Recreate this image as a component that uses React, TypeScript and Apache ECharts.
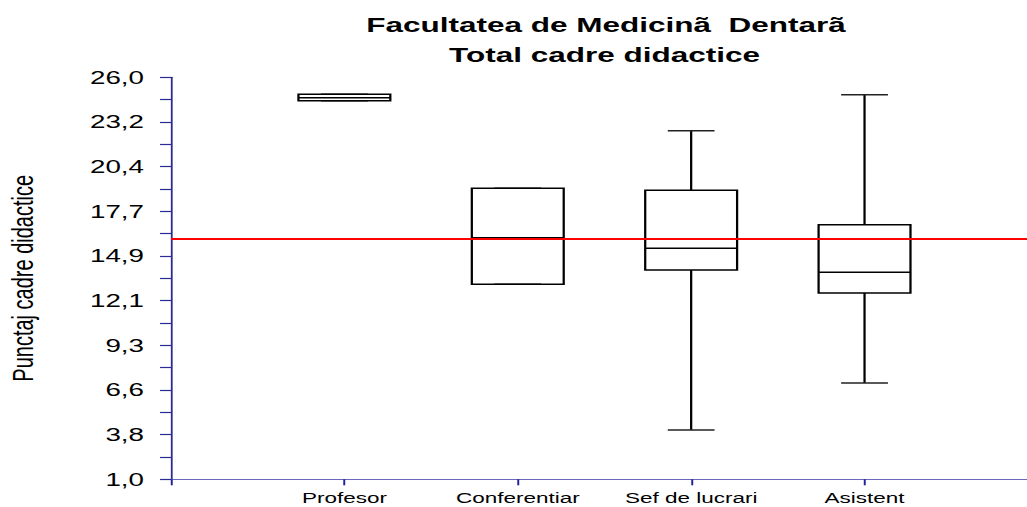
import React, { useEffect, useRef } from "react";
import * as echarts from "echarts";

// ---- data ----
const categories = ["Profesor", "Conferentiar", "Sef de lucrari", "Asistent"];
const minValues = [24.54, 13.13, 4.07, 6.99];
const q1Values = [24.54, 13.13, 14.02, 12.59];
const medianValues = [24.73, 16.02, 15.37, 13.87];
const q3Values = [24.94, 19.1, 18.97, 16.83];
const maxValues = [24.94, 19.1, 22.68, 24.92];
const referenceValue = 15.94;
const yTickLabels = ["1,0", "3,8", "6,6", "9,3", "12,1", "14,9", "17,7", "20,4", "23,2", "26,0"];
const yLabelValues = [1, 3.7778, 6.5556, 9.3333, 12.1111, 14.8889, 17.6667, 20.4444, 23.2222, 26];
const yMinorTickValues = [2.3889, 5.1667, 7.9444, 10.7222, 13.5, 16.2778, 19.0556, 21.8333, 24.6111];
const xTickPositions = [0, 1, 2, 3, 4];
const titleLines = ["Facultatea de Medicinã  Dentarã", "Total cadre didactice"];
const yAxisName = "Punctaj cadre didactice";

// ---- layout (the reference is horizontally stretched) ----
const STRETCH = 1.5;
const W = 1027 / STRETCH;
const H = 507;
const FONT = "'Liberation Sans', Arial, Helvetica, sans-serif";

export default function App() {
  const ref = useRef<HTMLDivElement>(null);

  useEffect(() => {
    if (!ref.current) return;
    const chart = echarts.init(ref.current, null, { renderer: "svg", width: W, height: H });

    const boxData = categories.map((_, i) => [
      i + 1,
      minValues[i],
      q1Values[i],
      medianValues[i],
      q3Values[i],
      maxValues[i],
    ]);

    const lw = 1.5;
    const renderItem = (params: any, api: any) => {
      const x = api.value(0);
      const lo = api.value(1);
      const q1 = api.value(2);
      const med = api.value(3);
      const q3 = api.value(4);
      const hi = api.value(5);
      const half = 0.265;
      const capHalf = 0.135;
      const p = (xx: number, yy: number) => api.coord([xx, yy]);
      const tl = p(x - half, q3);
      const br = p(x + half, q1);
      const line = (a: number[], b: number[], color = "#000") => ({
        type: "line",
        shape: { x1: a[0], y1: a[1], x2: b[0], y2: b[1] },
        style: { stroke: color, lineWidth: lw },
      });
      return {
        type: "group",
        children: [
          line(p(x, q3), p(x, hi)),
          line(p(x, q1), p(x, lo)),
          line(p(x - capHalf, hi), p(x + capHalf, hi), "#222"),
          line(p(x - capHalf, lo), p(x + capHalf, lo), "#222"),
          {
            type: "rect",
            shape: { x: tl[0], y: tl[1], width: br[0] - tl[0], height: br[1] - tl[1] },
            style: { fill: "rgba(0,0,0,0)", stroke: "#000", lineWidth: lw },
          },
          line(p(x - half, med), p(x + half, med)),
        ],
      };
    };

    const yLabelFor = (v: number) => {
      let best = -1;
      let bestD = Infinity;
      yLabelValues.forEach((lv, i) => {
        const d = Math.abs(lv - v);
        if (d < bestD) {
          bestD = d;
          best = i;
        }
      });
      return bestD < 0.01 ? yTickLabels[best] : "";
    };

    const option: any = {
      animation: false,
      backgroundColor: "#ffffff",
      textStyle: { fontFamily: FONT },
      grid: {
        left: 114,
        right: 0,
        top: 77.3,
        bottom: 27.7,
        containLabel: false,
        outerBoundsMode: "none",
      },
      graphic: [
        {
          type: "text",
          x: 404,
          y: 25,
          style: {
            text: titleLines[0],
            fontSize: 21,
            fontWeight: "bold",
            fontFamily: FONT,
            fill: "#000",
            align: "center",
            verticalAlign: "middle",
          },
        },
        {
          type: "text",
          x: 403,
          y: 55,
          style: {
            text: titleLines[1],
            fontSize: 21,
            fontWeight: "bold",
            fontFamily: FONT,
            fill: "#000",
            align: "center",
            verticalAlign: "middle",
          },
        },
      ],
      xAxis: {
        type: "value",
        min: 0,
        max: 4.937,
        axisLine: { show: true, onZero: false, lineStyle: { color: "#6a6ab8", width: 1.2 } },
        axisTick: {
          show: true,
          length: 6,
          customValues: xTickPositions,
          lineStyle: { color: "#1f1fa0", width: 1.3 },
        },
        axisLabel: {
          customValues: xTickPositions.slice(1),
          formatter: (v: number) => categories[Math.round(v) - 1] ?? "",
          fontSize: 15,
          color: "#000",
          margin: 11,
          fontFamily: FONT,
        },
        splitLine: { show: false },
      },
      yAxis: {
        type: "value",
        min: 1,
        max: 26,
        position: "left",
        axisLine: { show: true, onZero: false, lineStyle: { color: "#2a2a95", width: 1.2 } },
        axisTick: {
          show: true,
          length: 7.3,
          customValues: yLabelValues.concat(yMinorTickValues),
          lineStyle: { color: "#2a2a95", width: 1.2 },
        },
        axisLabel: {
          customValues: yLabelValues,
          formatter: (v: number) => yLabelFor(v),
          fontSize: 18.5,
          color: "#000",
          margin: 18,
          fontFamily: FONT,
        },
        splitLine: { show: false },
        name: yAxisName,
        nameLocation: "middle",
        nameRotate: 90,
        nameGap: 89,
        nameTextStyle: { fontSize: 20, color: "#000", fontFamily: FONT },
      },
      series: [
        {
          type: "custom",
          renderItem,
          data: boxData,
          encode: { x: 0, y: [1, 2, 3, 4, 5] },
          clip: false,
          z: 3,
          markLine: {
            silent: true,
            symbol: ["none", "none"],
            label: { show: false },
            lineStyle: { color: "#ff0000", width: 2, type: "solid" },
            data: [{ yAxis: referenceValue }],
          },
        },
      ],
    };

    chart.setOption(option);
    return () => chart.dispose();
  }, []);

  return (
    <div
      style={{
        position: "fixed",
        left: 0,
        top: 0,
        width: W,
        height: H,
        transform: `scaleX(${STRETCH})`,
        transformOrigin: "0 0",
        background: "#fff",
        overflow: "hidden",
      }}
    >
      <div ref={ref} style={{ width: W, height: H }} />
    </div>
  );
}
